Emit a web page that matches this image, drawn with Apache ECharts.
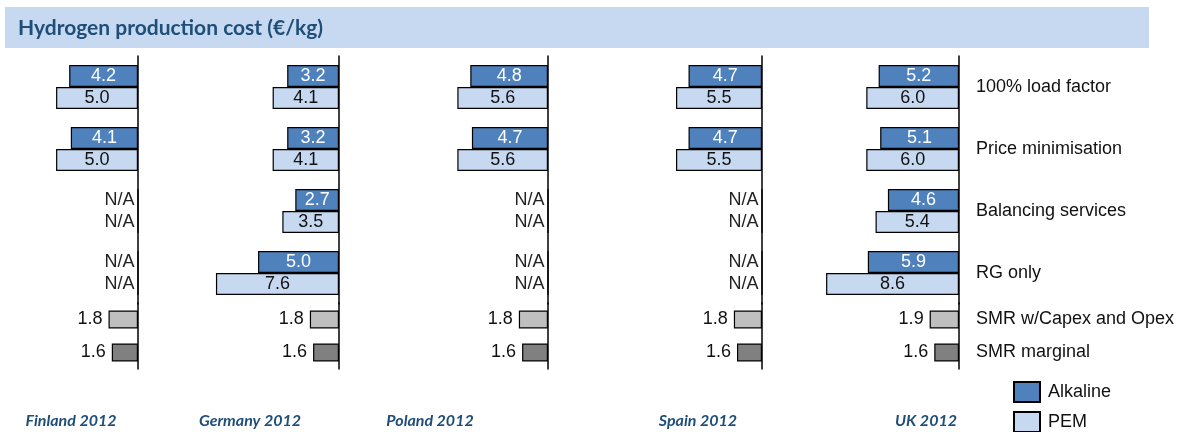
<!DOCTYPE html>
<html>
<head>
<meta charset="utf-8" />
<script src="https://cdn.jsdelivr.net/npm/echarts@6/dist/echarts.min.js"></script>
<style>
  html, body { margin: 0; padding: 0; background: #fff; }
  #main { width: 1187px; height: 432px; }
</style>
</head>
<body>
<div id="main"></div>
<script type="text/javascript">
// data
var countries = ['Finland 2012', 'Germany 2012', 'Poland 2012', 'Spain 2012', 'UK 2012'];
var scenarios = ['100% load factor', 'Price minimisation', 'Balancing services', 'RG only'];
var smrCases = ['SMR w/Capex and Opex', 'SMR marginal'];
var alkaline = [
  [4.2, 4.1, null, null],
  [3.2, 3.2, 2.7, 5.0],
  [4.8, 4.7, null, null],
  [4.7, 4.7, null, null],
  [5.2, 5.1, 4.6, 5.9]
];
var pem = [
  [5.0, 5.0, null, null],
  [4.1, 4.1, 3.5, 7.6],
  [5.6, 5.6, null, null],
  [5.5, 5.5, null, null],
  [6.0, 6.0, 5.4, 8.6]
];
var smr = [
  [1.8, 1.6],
  [1.8, 1.6],
  [1.8, 1.6],
  [1.8, 1.6],
  [1.9, 1.6]
];

// layout of the five panels (x of the vertical axis, axis max, title centre)
var axisX = [138, 339, 548, 762, 959];
var axisMax = [8.3, 8.4, 8.4, 8.7, 8.8];
var titleX = [71, 250, 430, 698, 926];
var barArea = 136;

var darkBlue = '#1F4E79';
var labelFont = 'Liberation Sans, Arial, sans-serif';
var fontSize = 18;
var smrColors = ['#BFBFBF', '#808080'];

var myChart = echarts.init(document.getElementById('main'));

var grids = [], xAxes = [], yAxes = [], series = [], graphics = [];

// turn a value into a bar item, N/A when missing
function toItem(v) {
  if (v == null) {
    return { value: 0, label: { position: 'left', distance: 3, color: '#222', formatter: 'N/A' } };
  }
  return v;
}

function oneDecimal(p) { return p.value.toFixed(1); }

countries.forEach(function (name, i) {
  var isLast = i === countries.length - 1;
  // top grid: the four scenarios
  grids.push({ left: axisX[i] - barArea, width: barArea, top: 56, height: 248 });
  // bottom grid: the SMR reference cases
  grids.push({ left: axisX[i] - barArea, width: barArea, top: 303, height: 66 });

  [0, 1].forEach(function (k) {
    xAxes.push({
      type: 'value', gridIndex: 2 * i + k, min: 0, max: axisMax[i], inverse: true,
      show: false, splitLine: { show: false }
    });
    yAxes.push({
      type: 'category', gridIndex: 2 * i + k, inverse: true, position: 'right',
      data: k === 0 ? scenarios : smrCases,
      axisLine: { show: true, lineStyle: { color: '#000', width: 1.5 } },
      axisTick: { show: false },
      axisLabel: {
        show: isLast, margin: 17, align: 'left',
        fontFamily: labelFont, fontSize: fontSize, color: '#111'
      }
    });
  });

  series.push({
    name: 'Alkaline', type: 'bar', xAxisIndex: 2 * i, yAxisIndex: 2 * i,
    data: alkaline[i].map(toItem), barWidth: 22, barGap: '0%',
    itemStyle: { color: '#4F81BD', borderColor: '#000', borderWidth: 1.2 },
    label: {
      show: true, position: 'inside', color: '#fff', fontFamily: labelFont, fontSize: fontSize,
      formatter: oneDecimal
    },
    silent: true
  });
  series.push({
    name: 'PEM', type: 'bar', xAxisIndex: 2 * i, yAxisIndex: 2 * i,
    data: pem[i].map(toItem), barWidth: 22, barGap: '0%',
    itemStyle: { color: '#C6D9F1', borderColor: '#000', borderWidth: 1.2 },
    label: {
      show: true, position: 'inside', color: '#111', fontFamily: labelFont, fontSize: fontSize,
      formatter: oneDecimal
    },
    silent: true
  });
  series.push({
    name: 'SMR', type: 'bar', xAxisIndex: 2 * i + 1, yAxisIndex: 2 * i + 1,
    data: smr[i].map(function (v, j) {
      return { value: v, itemStyle: { color: smrColors[j] } };
    }),
    barWidth: 18,
    itemStyle: { borderColor: '#000', borderWidth: 1.2 },
    label: {
      show: true, position: 'left', distance: 6, color: '#111', fontFamily: labelFont, fontSize: fontSize,
      formatter: oneDecimal
    },
    silent: true
  });

  graphics.push({
    type: 'text', x: titleX[i], y: 421,
    style: {
      text: name, fill: darkBlue, align: 'center', verticalAlign: 'middle',
      fontStyle: 'italic', fontWeight: 'bold', fontSize: 16, fontFamily: 'Lato'
    }
  });
});

// header banner
graphics.unshift(
  { type: 'rect', shape: { x: 5, y: 7, width: 1144, height: 41 }, style: { fill: '#C6D9F1' }, z: -1 },
  {
    type: 'text', x: 18, y: 28,
    style: {
      text: 'Hydrogen production cost (€/kg)', fill: darkBlue, verticalAlign: 'middle',
      fontWeight: 'bold', fontSize: 21, fontFamily: 'Lato'
    }
  }
);

var option = {
  animation: false,
  legend: {
    data: ['Alkaline', 'PEM'],
    orient: 'vertical', left: 1013, top: 381, height: 60, padding: 0,
    itemWidth: 26, itemHeight: 20, itemGap: 8,
    icon: 'rect',
    textStyle: { fontFamily: labelFont, fontSize: fontSize, lineHeight: 20, color: '#111', padding: [0, 0, 0, 3] }
  },
  grid: grids,
  xAxis: xAxes,
  yAxis: yAxes,
  series: series,
  graphic: graphics
};

myChart.setOption(option);
</script>
</body>
</html>
